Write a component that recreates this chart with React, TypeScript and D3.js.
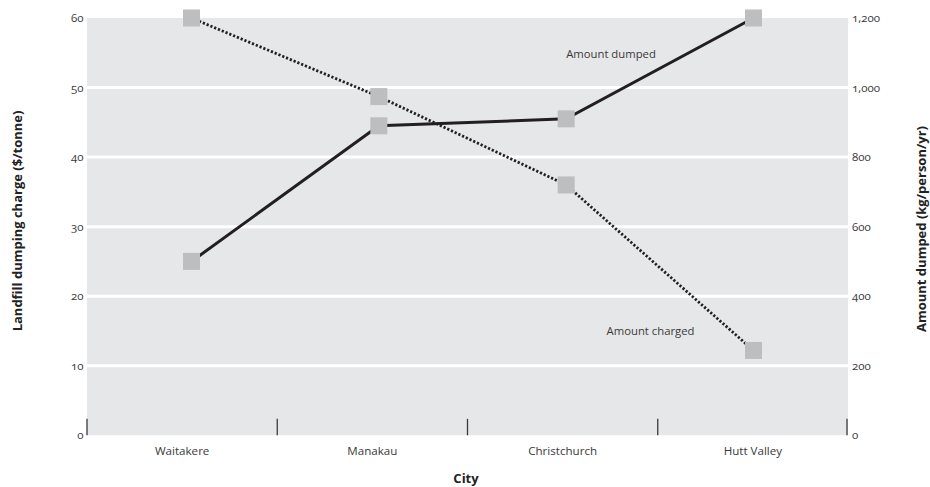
import React from "react";
import * as d3 from "d3";

// Cities along the category axis
const cities: string[] = ["Waitakere", "Manakau", "Christchurch", "Hutt Valley"];
// Landfill dumping charge ($/tonne), left axis
const charged: number[] = [60, 48.7, 36, 12.2];
// Amount dumped (kg/person/yr), right axis
const dumped: number[] = [500, 890, 910, 1200];
// Tick values
const leftTicks: number[] = [0, 10, 20, 30, 40, 50, 60];
const rightTicks: number[] = [0, 200, 400, 600, 800, 1000, 1200];

const W = 930;
const H = 487;
const plot = { left: 87, right: 848, top: 18, bottom: 435.3 };
const FONT = "'Open Sans', 'DejaVu Sans', sans-serif";
const TEXT = "#3a3a3a";
const INK = "#231f20";

export default function App() {
  const band = d3.scaleBand<string>().domain(cities).range([plot.left, plot.right]).paddingInner(0).paddingOuter(0);
  const xPt = d3.scalePoint<string>().domain(cities).range([191.5, 753.5]);
  const yL = d3.scaleLinear().domain([0, 60]).range([plot.bottom, plot.top]);
  const yR = d3.scaleLinear().domain([0, 1200]).range([plot.bottom, plot.top]);

  const lineL = d3
    .line<number>()
    .x((_, i) => xPt(cities[i]) as number)
    .y((d) => yL(d));
  const lineR = d3
    .line<number>()
    .x((_, i) => xPt(cities[i]) as number)
    .y((d) => yR(d));

  const boundaries = [...cities.map((c) => band(c) as number), plot.right - 1];
  const gridVals = leftTicks.filter((t) => t > 0 && t < 60);
  const m = 17;

  return (
    <svg
      width={W}
      height={H}
      style={{ position: "absolute", left: 0, top: 0, background: "#fff" }}
      fontFamily={FONT}
    >
      <rect x={plot.left} y={plot.top} width={plot.right - plot.left} height={plot.bottom - plot.top} fill="#e6e7e8" />
      {gridVals.map((t) => (
        <line key={t} x1={plot.left} x2={plot.right} y1={yL(t)} y2={yL(t)} stroke="#fff" strokeWidth={3} />
      ))}
      {boundaries.map((x, i) => (
        <line key={i} x1={x} x2={x} y1={plot.bottom - 16.5} y2={plot.bottom} stroke="#3a3a3a" strokeWidth={1.3} />
      ))}

      {/* left axis labels */}
      {leftTicks.map((t) => (
        <text
          key={t}
          x={83.5}
          y={yL(t) + 4}
          textAnchor="end"
          fontSize={11.5}
          fill={TEXT}
          style={{ fontVariantNumeric: "oldstyle-nums" }}
        >
          {t}
        </text>
      ))}
      {/* right axis labels */}
      {rightTicks.map((t) => (
        <text
          key={t}
          x={852}
          y={yR(t) + 4}
          textAnchor="start"
          fontSize={11.5}
          fill={TEXT}
          style={{ fontVariantNumeric: "oldstyle-nums" }}
        >
          {d3.format(",")(t)}
        </text>
      ))}

      {/* category labels */}
      {cities.map((c) => (
        <text key={c} x={(band(c) as number) + band.bandwidth() / 2} y={455} textAnchor="middle" fontSize={11.6} fill={TEXT}>
          {c}
        </text>
      ))}

      {/* series lines */}
      <path d={lineR(dumped) || ""} fill="none" stroke={INK} strokeWidth={3} />
      <path d={lineL(charged) || ""} fill="none" stroke={INK} strokeWidth={2.8} strokeDasharray="2.2 1.9" />

      {/* markers */}
      {dumped.map((v, i) => (
        <rect key={"d" + i} x={(xPt(cities[i]) as number) - m / 2} y={yR(v) - m / 2} width={m} height={m} fill="#bcbec0" />
      ))}
      {charged.map((v, i) => (
        <rect key={"c" + i} x={(xPt(cities[i]) as number) - m / 2} y={yL(v) - m / 2} width={m} height={m} fill="#bcbec0" />
      ))}

      {/* series labels */}
      <text x={611} y={58} textAnchor="middle" fontSize={11.3} fill={TEXT}>
        Amount dumped
      </text>
      <text x={650.5} y={335} textAnchor="middle" fontSize={11.3} fill={TEXT}>
        Amount charged
      </text>

      {/* axis titles */}
      <text x={466} y={483} textAnchor="middle" fontSize={13} fontWeight="bold" fill="#222">
        City
      </text>
      <text transform="translate(21.5,221) rotate(-90)" textAnchor="middle" fontSize={13} fontWeight="bold" fill="#222">
        Landfill dumping charge ($/tonne)
      </text>
      <text transform="translate(925.5,229) rotate(-90)" textAnchor="middle" fontSize={13} fontWeight="bold" fill="#222">
        Amount dumped (kg/person/yr)
      </text>
    </svg>
  );
}
